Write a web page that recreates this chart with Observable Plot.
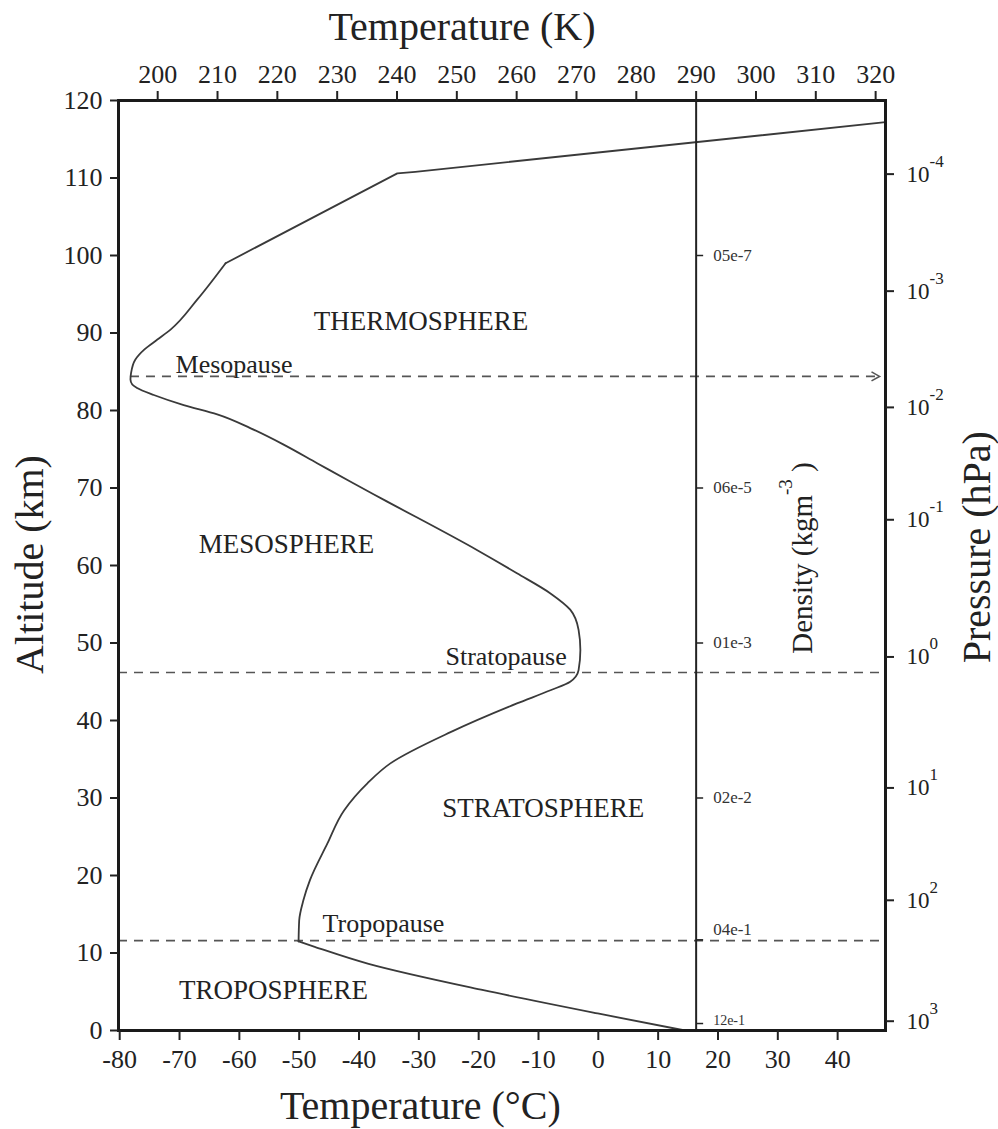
<!DOCTYPE html>
<html><head><meta charset="utf-8">
<script src="https://cdn.jsdelivr.net/npm/d3@7"></script>
<script src="https://cdn.jsdelivr.net/npm/@observablehq/plot@0.6"></script>
<style>body{margin:0;background:#fff} svg{display:block}</style>
</head><body><div id="chart"></div>
<script>
// Temperature profile (°C) vs altitude (km)
const altitudeKm =   [0, 2.2, 5.2, 8.6, 10.8, 11.5, 14.2, 16.8, 19.4, 24.1, 28.4, 31.9, 34.5, 38.5, 42.2, 43.9, 45.0, 46.5, 49.1, 51.7, 54.3, 56.4, 59.0, 62.0, 68.5, 70.8, 73.2, 75.6, 77.7, 79.5, 80.7, 82.0, 82.9, 83.35, 84.0, 84.84, 86.56, 87.86, 89.15, 90.44, 94.3, 99.0, 110.6, 110.8, 117.2];
const temperatureC = [14.5, -0.1, -19.2, -38.4, -47.4, -50.1, -50.0, -49.3, -48.2, -45.3, -42.5, -38.6, -34.7, -24.7, -13.6, -8.0, -4.7, -3.3, -3.0, -3.3, -4.7, -8.0, -13.6, -20.3, -35.9, -41.4, -47.0, -52.6, -58.1, -63.7, -69.3, -74.3, -77.1, -77.9, -78.2, -78.1, -77.4, -75.9, -73.7, -71.5, -67.05, -62.3, -33.6, -30.6, 48.0];
// sharp corners of the profile (tropopause, thermosphere knee)
const cornerAltitudes = [11.5, 99.0];

const celsiusTicks = [-80, -70, -60, -50, -40, -30, -20, -10, 0, 10, 20, 30, 40];
const kelvinTicks = [200, 210, 220, 230, 240, 250, 260, 270, 280, 290, 300, 310, 320];
const altitudeTicks = [0, 10, 20, 30, 40, 50, 60, 70, 80, 90, 100, 110, 120];
const kelvinOffset = 273.65;

const pressureExponents = [3, 2, 1, 0, -1, -2, -3, -4];
const pressureTickAlt = [1.2, 16.8, 31.3, 48.2, 65.9, 80.4, 95.4, 110.5];

const densityAxisK = 290;
const densityLabels = ["12e-1", "04e-1", "02e-2", "01e-3", "06e-5", "05e-7"];
const densityTickAlt = [0.9, 11.7, 30, 50, 70, 100];
const densityLabelAlt = [1.3, 13.0, 30, 50, 70, 100];
const densityFontSize = [14, 17, 17, 17, 17, 17];

const pauseNames = ["Tropopause", "Stratopause", "Mesopause"];
const pauseAlt = [11.6, 46.2, 84.4];
const pauseStartT = [-80.2, -80.2, -78.2];
const pauseEndT = [48, 48, 47];
const pauseLabelT = [-46.1, -25.55, -70.67];
const pauseLabelAlt = [12.7, 47.16, 84.9];

const layerNames = ["TROPOSPHERE", "STRATOSPHERE", "MESOSPHERE", "THERMOSPHERE"];
const layerLabelT = [-70.1, -26.1, -66.78, -47.56];
const layerLabelAlt = [4.1, 27.56, 61.6, 90.44];

// split the profile into pieces at the sharp corners
const profile = altitudeKm.map((z, i) => ({z, t: temperatureC[i]}));
const pieces = [];
let seg = 0;
profile.forEach((p, i) => {
  pieces.push({...p, seg});
  if (cornerAltitudes.includes(p.z) && i < profile.length - 1) { seg++; pieces.push({...p, seg}); }
});
const smoothPieces = pieces.filter(d => d.seg < cornerAltitudes.length);
const straightPieces = pieces.filter(d => d.seg === cornerAltitudes.length);

const pauses = pauseNames.map((name, i) => ({name, z: pauseAlt[i], x1: pauseStartT[i], x2: pauseEndT[i], lt: pauseLabelT[i], lz: pauseLabelAlt[i]}));
const layers = layerNames.map((name, i) => ({name, t: layerLabelT[i], z: layerLabelAlt[i]}));
const density = densityLabels.map((label, i) => ({label, z: densityTickAlt[i], lz: densityLabelAlt[i], fs: densityFontSize[i]}));
const pressure = pressureExponents.map((e, i) => ({e, z: pressureTickAlt[i]}));
const densX = densityAxisK - kelvinOffset;

const tickRight = {draw(ctx) { ctx.moveTo(0, 0); ctx.lineTo(7, 0); }};
const chevron = {draw(ctx) { ctx.moveTo(-8, -4.5); ctx.lineTo(0, 0); ctx.lineTo(-8, 4.5); }};

const ink = "#222";
const chart = Plot.plot({
  width: 998, height: 1129,
  marginTop: 100, marginBottom: 99, marginLeft: 118, marginRight: 113,
  x: {domain: [-80.2, 48]},
  y: {domain: [0, 120]},
  style: {fontFamily: "'Liberation Serif', 'Times New Roman', serif", color: ink, background: "white"},
  marks: [
    Plot.ruleY(pauses, {y: "z", x1: "x1", x2: "x2", stroke: "#555", strokeWidth: 1.6, strokeDasharray: "9,7"}),
    Plot.dot(pauses.filter(d => d.name === "Mesopause"), {x: "x2", y: "z", symbol: chevron, stroke: "#555", strokeWidth: 1.6, fill: "none"}),
    Plot.line(smoothPieces, {x: "t", y: "z", z: "seg", curve: "monotone-y", stroke: "#3a3a3a", strokeWidth: 1.8}),
    Plot.line(straightPieces, {x: "t", y: "z", stroke: "#3a3a3a", strokeWidth: 1.8}),
    Plot.ruleX([densX], {stroke: ink, strokeWidth: 2}),
    Plot.dot(density, {x: () => densX, y: "z", symbol: tickRight, stroke: ink, strokeWidth: 1.5, fill: "none"}),
    Plot.text(density, {x: () => densX, y: "lz", text: "label", dx: 17, textAnchor: "start", lineAnchor: "middle", fontSize: "fs", fill: "#333"}),
    Plot.frame({stroke: "#1a1a1a", strokeWidth: 3}),
    Plot.axisX(celsiusTicks, {anchor: "bottom", tickSize: 10, tickPadding: 9, fontSize: 26, strokeWidth: 2, tickFormat: d => String(d), label: null}),
    Plot.axisX(kelvinTicks.map(k => k - kelvinOffset), {anchor: "top", tickSize: 10, tickPadding: 8, fontSize: 26, strokeWidth: 2, tickFormat: d => String(Math.round(d + kelvinOffset)), label: null}),
    Plot.axisY(altitudeTicks, {anchor: "left", tickSize: 8, tickPadding: 8, fontSize: 26, strokeWidth: 2, tickFormat: d => String(d), label: null}),
    Plot.axisY(pressureTickAlt, {anchor: "right", tickSize: 8, strokeWidth: 2, tickFormat: () => "", label: null}),
    Plot.text(pressure, {y: "z", text: d => `10^{${d.e}}`, frameAnchor: "right", dx: 21, textAnchor: "start", lineAnchor: "middle", fontSize: 23}),
    Plot.text(pauses, {x: "lt", y: "lz", text: "name", textAnchor: "start", lineAnchor: "bottom", fontSize: 26}),
    Plot.text(layers, {x: "t", y: "z", text: "name", textAnchor: "start", lineAnchor: "bottom", fontSize: 27}),
    Plot.text(["Temperature (K)"], {frameAnchor: "top", dx: -40, dy: -61, textAnchor: "middle", lineAnchor: "bottom", fontSize: 40}),
    Plot.text(["Temperature (°C)"], {frameAnchor: "bottom", dx: -81.6, dy: 88, textAnchor: "middle", lineAnchor: "bottom", fontSize: 40}),
    Plot.text(["Altitude (km)"], {frameAnchor: "left", dx: -76, dy: -1, rotate: -90, textAnchor: "middle", lineAnchor: "bottom", fontSize: 40}),
    Plot.text(["Pressure (hPa)"], {frameAnchor: "right", dx: 104, dy: -18.3, rotate: -90, textAnchor: "middle", lineAnchor: "bottom", fontSize: 40}),
    Plot.text(["Density (kgm^{-3} )"], {frameAnchor: "right", dx: -74, dy: -7.5, rotate: -90, textAnchor: "middle", lineAnchor: "bottom", fontSize: 29})
  ]
});

// turn "a^{b}c" into superscript tspans
const supStyle = t => t.includes("Density") ? {fs: 19, shift: 20} : {fs: 17, shift: 15};
chart.querySelectorAll("text").forEach(el => {
  const s = el.textContent;
  const m = s.match(/^(.*)\^\{(.*)\}(.*)$/);
  if (!m) return;
  const st = supStyle(s);
  el.textContent = "";
  el.appendChild(document.createTextNode(m[1]));
  const sup = document.createElementNS("http://www.w3.org/2000/svg", "tspan");
  sup.setAttribute("dy", -st.shift);
  sup.setAttribute("font-size", st.fs);
  sup.textContent = m[2];
  el.appendChild(sup);
  if (m[3]) {
    const rest = document.createElementNS("http://www.w3.org/2000/svg", "tspan");
    rest.setAttribute("dy", st.shift);
    rest.textContent = m[3];
    el.appendChild(rest);
  }
});
document.getElementById("chart").appendChild(chart);
</script>
</body></html>
